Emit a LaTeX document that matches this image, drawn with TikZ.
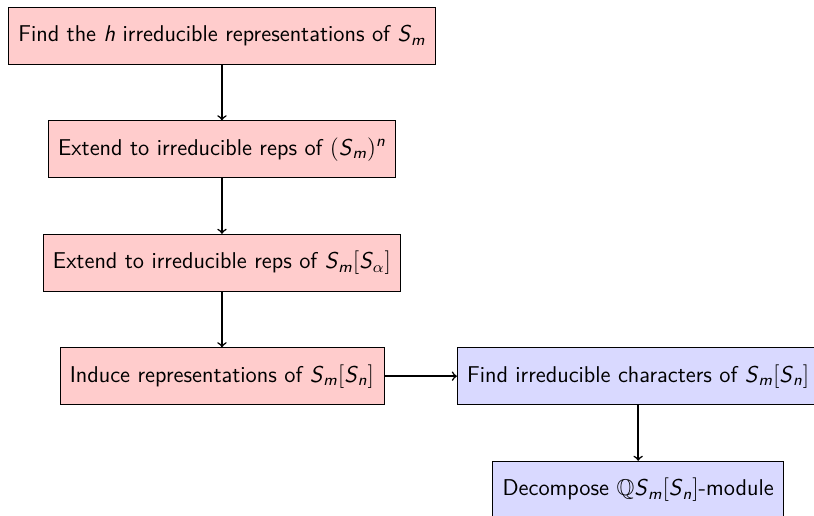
\documentclass[tikz,border=0pt]{standalone}
\usepackage{amsmath,amssymb}
\usepackage{fontspec}
\usepackage{tikz}
\usetikzlibrary{positioning,arrows}
\renewcommand{\familydefault}{\sfdefault}
\newcommand{\si}[1]{\text{\textit{#1}}}
\newcommand{\Sm}{\si{S}_{\si{m}}}
\newcommand{\Sn}{\si{S}_{\si{n}}}

\begin{document}
\begin{tikzpicture}[node distance=1cm,
    font=\fontsize{11.65}{14}\selectfont,
    stepred/.style={draw,fill=red!20,minimum height=1.02cm,inner xsep=5pt},
    stepblue/.style={draw,fill=blue!15,minimum height=1.02cm,inner xsep=5pt},
    flow/.style={->,thick}]
    % cadre de l'image
    \useasboundingbox (-113.2pt,18.2pt) rectangle (301.9pt,-244.5pt);
    \clip (-113.2pt,18.2pt) rectangle (301.9pt,-244.5pt);
    %colonne de gauche
    \node[stepred] (find) at (0,0) {Find the $\si{h}$ irreducible representations of $\Sm$};
    \node[stepred,below=of find] (ext) {Extend to irreducible reps of $(\Sm)^{\si{n}}$};
    \node[stepred,below=of ext] (extalpha) {Extend to irreducible reps of $\Sm[\si{S}_\alpha]$};
    \node[stepred,below=of extalpha] (induce) {Induce representations of $\Sm[\Sn]$};
    %colonne de droite
    \node[stepblue,right=1.3cm of induce] (chars) {Find irreducible characters of $\Sm[\Sn]$};
    \node[stepblue,below=of chars] (decomp) {Decompose $\mathbb{Q}\Sm[\Sn]$-module};
    %fleches
    \draw[flow] (find) -- (ext);
    \draw[flow] (ext) -- (extalpha);
    \draw[flow] (extalpha) -- (induce);
    \draw[flow] (induce) -- (chars);
    \draw[flow] (chars) -- (decomp);
\end{tikzpicture}
\end{document}
